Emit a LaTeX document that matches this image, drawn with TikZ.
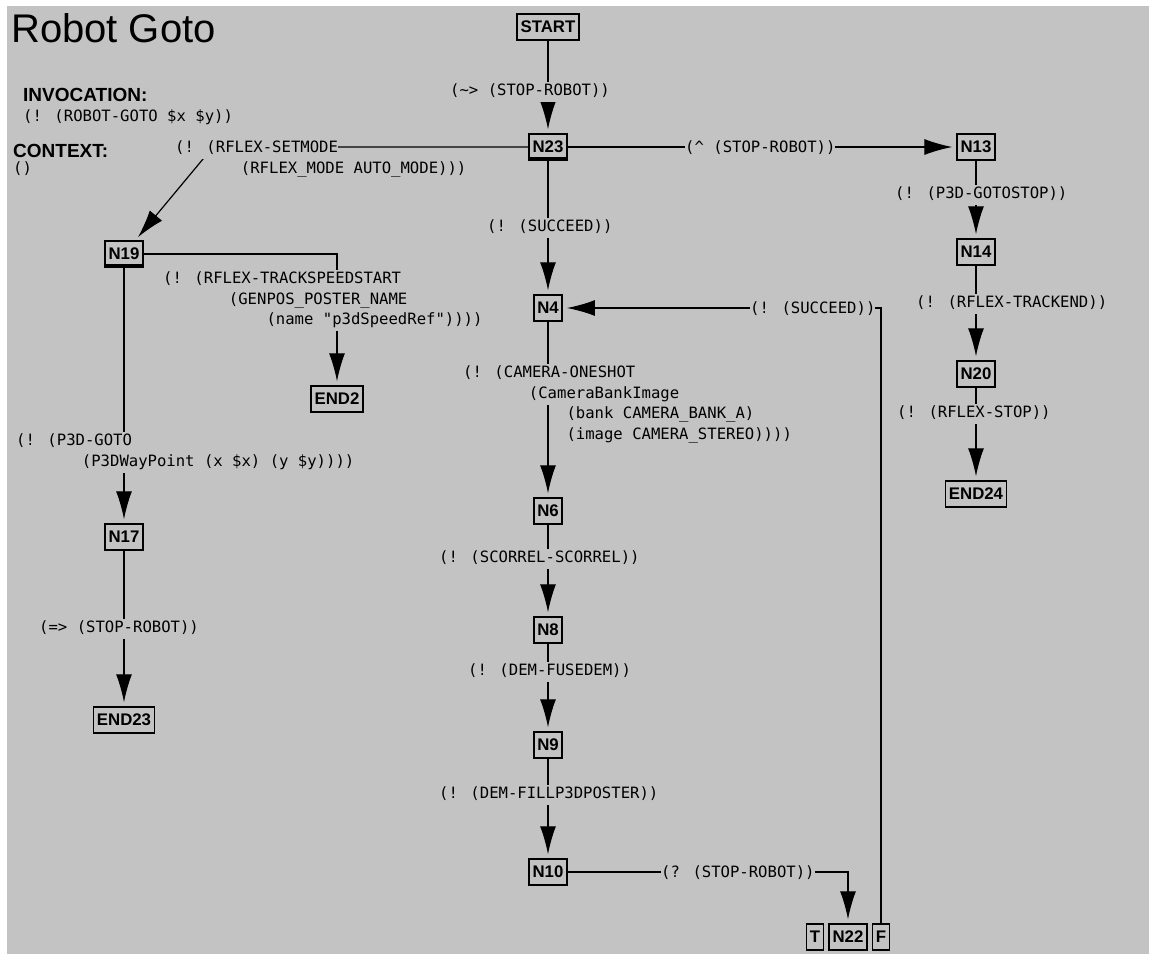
\documentclass[tikz,border=0pt]{standalone}
\usepackage{fontspec}
\setmainfont{Liberation Sans}
\newfontfamily\monofont{DejaVu Sans Mono}
\usetikzlibrary{arrows.meta,positioning}

\definecolor{panel}{RGB}{195,195,195}
\newcommand{\lblfont}{\monofont\fontsize{15.6}{20.5}\selectfont}
\newcommand{\boxfont}{\bfseries\fontsize{16.8}{20}\selectfont}
\newlength{\cw}
\AtBeginDocument{\settowidth{\cw}{\lblfont 0}}
% grey strip behind each line of a label, indent in characters
\newcommand{\hl}[1]{{\setlength{\fboxsep}{0pt}\colorbox{panel}{\strut#1}}}
\newcommand{\ind}[1]{\hspace*{#1\cw}}

\pgfdeclarelayer{lines}
\pgfsetlayers{lines,main}

\tikzset{
  state/.style={draw, line width=1.5pt, fill=panel, font=\boxfont,
    minimum height=26pt, inner xsep=3.5pt, inner ysep=0pt},
  lbl/.style={anchor=north west, inner sep=0pt, align=left, font=\lblfont},
  head/.style={anchor=base west, inner sep=0pt, font=\bfseries\fontsize{19}{22}\selectfont},
  flow/.style={line width=1.2pt, -{Latex[length=28pt,width=16pt]}, shorten >=4pt},
}

\begin{document}
\begin{tikzpicture}[x=1pt, y=-1pt]
    \useasboundingbox (0,0) rectangle (1149,954);

    % Kopf
    \node[anchor=base west, inner sep=0pt, font=\fontsize{40}{44}\selectfont] (title) at (11,42) {Robot Goto};
    \node[head] (inv) at (23,101) {INVOCATION:};
    \node[lbl] (invc) at (23,109.6) {(! (ROBOT-GOTO \$x \$y))};
    \node[head] (ctx) at (13,157) {CONTEXT:};
    \node[lbl] (ctxc) at (13,161.3) {()};

    % Zustaende
    \node[state] (START) at (548,27) {START};
    \node[state] (N23) at (548,147) {N23};
    \node[state] (N13) at (976,147) {N13};
    \node[state] (N14) at (976,252) {N14};
    \node[state] (N20) at (976,374) {N20};
    \node[state] (END24) at (976,494) {END24};
    \node[state] (N19) at (124,254) {N19};
    \node[state] (END2) at (337,399) {END2};
    \node[state] (N17) at (124,537) {N17};
    \node[state] (END23) at (124,720) {END23};
    \node[state] (N4) at (548,308) {N4};
    \node[state] (N6) at (548,511) {N6};
    \node[state] (N8) at (548,630) {N8};
    \node[state] (N9) at (548,745) {N9};
    \node[state] (N10) at (548,872) {N10};
    \node[state] (N22) at (848,937) {N22};
    \node[state, left=4pt of N22] (T) {T};
    \node[state, right=4pt of N22] (F) {F};

    \foreach \n in {N23, N19} {
        \fill (\n.south west) rectangle ([yshift=4pt]\n.south east);
    }

    % Beschriftungen
    \node[lbl] (lsr) at (450,81.3) {\hl{(\textasciitilde> (STOP-ROBOT))}};
    \node[lbl] (lsm) at (175,138.3) {\hl{(! (RFLEX-SETMODE}\\
        \ind{7}\hl{(RFLEX\_MODE AUTO\_MODE)))}};
    \node[lbl] (lhalt) at (685,138.3) {\hl{(\textasciicircum{} (STOP-ROBOT))}};
    \node[lbl] (lsucc) at (487,217.3) {\hl{(! (SUCCEED))}};
    \node[lbl] (lgs) at (895,184.3) {\hl{(! (P3D-GOTOSTOP))}};
    \node[lbl] (lte) at (916,293.3) {\hl{(! (RFLEX-TRACKEND))}};
    \node[lbl] (lrs) at (897,403.3) {\hl{(! (RFLEX-STOP))}};
    \node[lbl] (ltss) at (163,269.3) {\hl{(! (RFLEX-TRACKSPEEDSTART}\\
        \ind{7}\hl{(GENPOS\_POSTER\_NAME}\\
        \ind{11}\hl{(name "p3dSpeedRef"))))}};
    \node[lbl] (lgoto) at (16,431.3) {\hl{(! (P3D-GOTO}\\
        \ind{7}\hl{(P3DWayPoint (x \$x) (y \$y))))}};
    \node[lbl] (lsr2) at (39,618.3) {\hl{(=> (STOP-ROBOT))}};
    \node[lbl] (lcam) at (463,363.3) {\hl{(! (CAMERA-ONESHOT}\\
        \ind{7}\hl{(CameraBankImage}\\
        \ind{11}\hl{(bank CAMERA\_BANK\_A)}\\
        \ind{11}\hl{(image CAMERA\_STEREO))))}};
    \node[lbl] (lsc) at (439,548.3) {\hl{(! (SCORREL-SCORREL))}};
    \node[lbl] (lfu) at (468,661.3) {\hl{(! (DEM-FUSEDEM))}};
    \node[lbl] (lfill) at (439,784.3) {\hl{(! (DEM-FILLP3DPOSTER))}};
    \node[lbl] (lq) at (661,863.3) {\hl{(? (STOP-ROBOT))}};
    \node[lbl] (lsucc2) at (750,299.3) {\hl{(! (SUCCEED))}};

    \coordinate (smk) at (213,147);

    % Uebergaenge
    \begin{pgfonlayer}{lines}
        \fill[panel] (7,6) rectangle (1149,954);
        \draw[flow] (START) -- (N23);
        \draw[flow] (N23) -- (N13);
        \draw[flow] (N23.west) -- (smk) -- (N19);
        \draw[flow] (N23) -- (N4);
        \draw[flow] (N13) -- (N14);
        \draw[flow] (N14) -- (N20);
        \draw[flow] (N20) -- (END24);
        \draw[flow] (N19.east) -| (END2);
        \draw[flow] (N19) -- (N17);
        \draw[flow] (N17) -- (END23);
        \draw[flow] (N4) -- (N6);
        \draw[flow] (N6) -- (N8);
        \draw[flow] (N8) -- (N9);
        \draw[flow] (N9) -- (N10);
        \draw[flow] (N10) -| (N22);
        \draw[flow] (F) |- (N4);
    \end{pgfonlayer}
\end{tikzpicture}
\end{document}
